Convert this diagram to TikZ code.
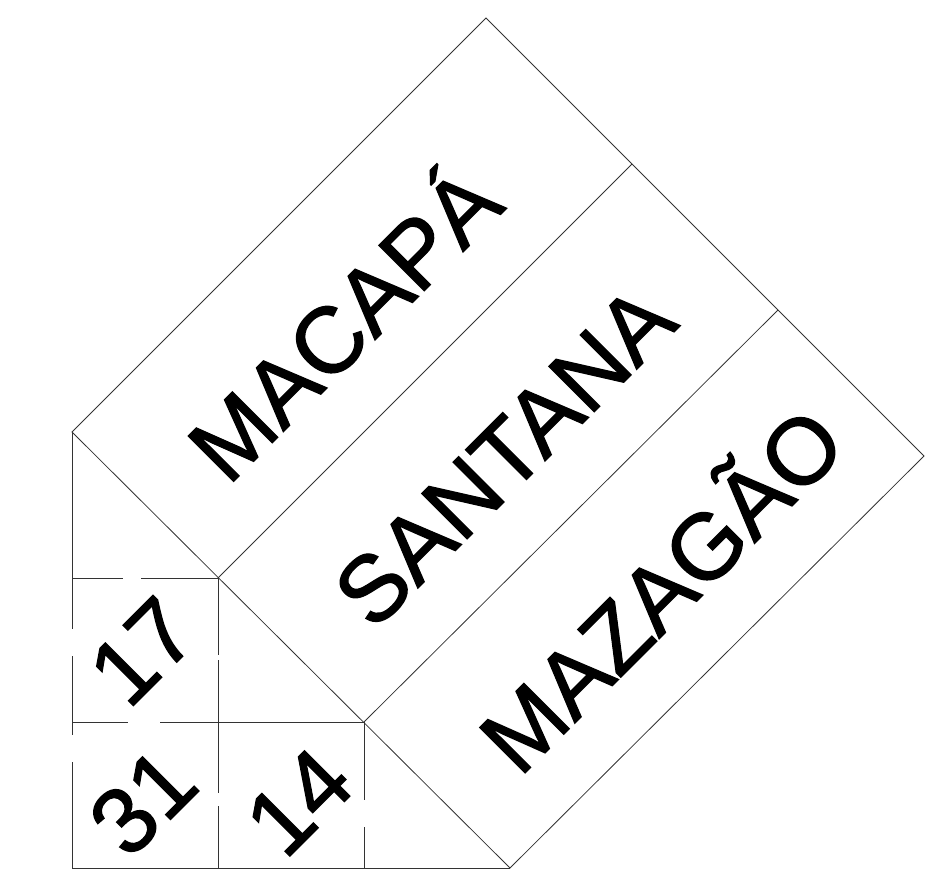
\documentclass[tikz,border=0pt]{standalone}
\usepackage{fontspec}
\setmainfont{Liberation Sans}
\newfontfamily\lblfont[FakeBold=1.3]{Liberation Sans}
\begin{document}
\begin{tikzpicture}[x=0.75pt,y=-0.75pt,
  edge/.style={line width=0.6pt, black!80},
  lbl/.style={font=\lblfont\fontsize{70}{84}\selectfont, rotate=45, inner sep=0pt, text=black}]
\useasboundingbox (0,0) rectangle (946,891);
% strip corners
\coordinate (a0) at (72,432);
\coordinate (a1) at (218,578);
\coordinate (a2) at (364,722);
\coordinate (a3) at (510,868);
\coordinate (b0) at (486,18);
\coordinate (b1) at (632,164);
\coordinate (b2) at (778,310);
\coordinate (b3) at (924,456);
% grid corners
\coordinate (g00) at (72,868);
% strips
\draw[edge] (a0) -- (b0) -- (b3) -- (a3) -- cycle;
\draw[edge] (a1) -- (b1);
\draw[edge] (a2) -- (b2);
% left edge with gaps
\draw[edge] (a0) -- (72,629);
\draw[edge] (72,656) -- (72,735);
\draw[edge] (72,762) -- (g00);
% bottom edge
\draw[edge] (g00) -- (a3);
% row lines
\draw[edge] (72,578) -- (123,578);
\draw[edge] (141,578) -- (a1);
\draw[edge] (72,722) -- (128,722);
\draw[edge] (160,722) -- (a2);
% column lines
\draw[edge] (a1) -- (218,655);
\draw[edge] (218,660) -- (218,793);
\draw[edge] (218,806) -- (218,868);
\draw[edge] (a2) -- (364,800);
\draw[edge] (364,827) -- (364,868);
% labels
\node[lbl, anchor=base west] (mac) at (228,487) {MACAPÁ};
\node[lbl, anchor=base west] (san) at (373.5,632.5) {SANTANA};
\node[lbl, anchor=base west] (maz) at (519.5,778.5) {MAZAGÃO};
\node[lbl, anchor=base] (n17) at (165,674) {17};
\node[lbl, anchor=base] (n31) at (165.5,824.5) {31};
\node[lbl, anchor=base] (n14) at (321.5,824.5) {14};
\end{tikzpicture}
\end{document}
